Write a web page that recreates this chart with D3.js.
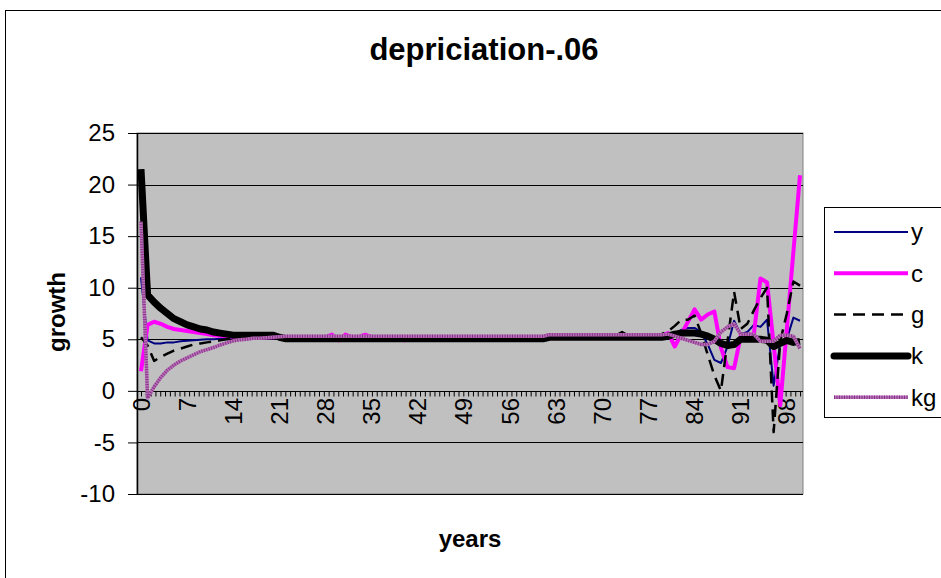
<!DOCTYPE html>
<html>
<head>
<meta charset="utf-8">
<script src="https://cdn.jsdelivr.net/npm/d3@7"></script>
<style>
  body { margin: 0; background: #fff; }
  svg { display: block; font-family: "Liberation Sans", Arial, sans-serif; }
</style>
</head>
<body>
<svg id="chart"></svg>
<script>
// years 0..100
var years = d3.range(0, 101);
var yTicks = [-10, -5, 0, 5, 10, 15, 20, 25];
var xLabels = [0, 7, 14, 21, 28, 35, 42, 49, 56, 63, 70, 77, 84, 91, 98];

var seriesY = [
  11.0, 4.9, 4.6, 4.6, 4.7, 4.7, 4.8, 4.85, 4.9, 4.95,
  5.0, 5.0, 5.05, 5.1, 5.1, 5.1, 5.1, 5.1, 5.1, 5.1,
  5.1, 5.1, 5.1, 5.1, 5.1, 5.1, 5.1, 5.1, 5.1, 5.1,
  5.1, 5.1, 5.1, 5.1, 5.1, 5.1, 5.1, 5.1, 5.1, 5.1,
  5.1, 5.1, 5.1, 5.1, 5.1, 5.1, 5.1, 5.1, 5.1, 5.1,
  5.1, 5.1, 5.1, 5.1, 5.1, 5.1, 5.1, 5.1, 5.1, 5.1,
  5.1, 5.1, 5.3, 5.3, 5.3, 5.3, 5.3, 5.3, 5.3, 5.3,
  5.3, 5.3, 5.3, 5.3, 5.3, 5.3, 5.3, 5.3, 5.3, 5.3,
  5.4, 5.6, 5.9, 6.1, 6.1, 5.7, 4.5, 3.0, 2.7, 4.3,
  6.8, 5.5, 5.7, 6.4, 6.2, 6.9, 0.5, 4.6, 5.0, 7.1,
  6.8
];
var seriesC = [
  1.9, 6.4, 6.7, 6.5, 6.2, 6.0, 5.9, 5.8, 5.7, 5.6,
  5.5, 5.4, 5.35, 5.3, 5.25, 5.2, 5.2, 5.2, 5.2, 5.2,
  5.2, 5.2, 5.2, 5.2, 5.2, 5.2, 5.2, 5.2, 5.2, 5.45,
  4.9, 5.45, 5.2, 5.2, 5.45, 5.2, 5.2, 5.2, 5.2, 5.2,
  4.9, 5.2, 5.2, 5.2, 5.2, 5.2, 5.2, 5.2, 5.2, 5.2,
  5.2, 5.2, 5.2, 5.2, 5.2, 5.2, 5.2, 5.2, 5.2, 5.2,
  5.2, 5.2, 5.4, 5.4, 5.4, 5.4, 5.4, 5.4, 5.4, 5.4,
  5.4, 5.4, 5.4, 5.4, 5.4, 5.4, 5.4, 5.4, 5.4, 5.4,
  5.6, 4.3, 5.5, 6.7, 7.9, 6.9, 7.4, 7.7, 4.2, 2.3,
  2.2, 5.3, 5.4, 5.5, 10.9, 10.5, 4.5, -1.4, 6.0, 13.5,
  20.9
];
var seriesG = [
  5.2, 4.4, 2.9, 3.3, 3.6, 3.9, 4.1, 4.3, 4.5, 4.6,
  4.7, 4.8, 4.9, 5.0, 5.0, 5.1, 5.2, 5.2, 5.2, 5.2,
  5.2, 5.2, 5.2, 5.2, 5.2, 5.2, 5.2, 5.2, 5.2, 5.2,
  5.2, 5.2, 5.2, 5.2, 5.2, 5.2, 5.2, 5.2, 5.2, 5.2,
  5.2, 5.2, 5.2, 5.2, 5.2, 5.2, 5.2, 5.2, 5.2, 5.2,
  5.2, 5.2, 5.2, 5.2, 5.2, 5.2, 5.2, 5.2, 5.2, 5.2,
  5.2, 5.2, 5.35, 5.35, 5.35, 5.35, 5.35, 5.35, 5.35, 5.35,
  5.35, 5.35, 5.35, 5.7, 5.35, 5.35, 5.35, 5.35, 5.35, 5.5,
  5.8, 6.3, 6.9, 6.9, 7.3, 5.6, 3.5, 1.5, 0.0, 4.8,
  9.6, 6.0, 6.5, 7.8, 9.0, 10.0, -4.0, 4.8, 7.5, 10.6,
  10.2
];
var seriesK = [
  21.5, 9.3, 8.6, 8.0, 7.5, 7.0, 6.7, 6.4, 6.2, 6.0,
  5.9, 5.7, 5.6, 5.5, 5.4, 5.4, 5.4, 5.4, 5.4, 5.4,
  5.4, 5.2, 5.05, 5.05, 5.05, 5.05, 5.05, 5.05, 5.05, 5.05,
  5.05, 5.05, 5.05, 5.05, 5.05, 5.05, 5.05, 5.05, 5.05, 5.05,
  5.05, 5.05, 5.05, 5.05, 5.05, 5.05, 5.05, 5.05, 5.05, 5.05,
  5.05, 5.05, 5.05, 5.05, 5.05, 5.05, 5.05, 5.05, 5.05, 5.05,
  5.05, 5.05, 5.2, 5.2, 5.2, 5.2, 5.2, 5.2, 5.2, 5.2,
  5.2, 5.2, 5.2, 5.2, 5.2, 5.2, 5.2, 5.2, 5.2, 5.2,
  5.3, 5.5, 5.6, 5.6, 5.6, 5.5, 5.3, 5.0, 4.6, 4.4,
  4.5, 5.0, 5.0, 5.0, 5.0, 4.9, 4.3, 4.6, 4.9, 4.7,
  4.8
];
var seriesKG = [
  16.4, -0.7, 0.4, 1.3, 2.0, 2.5, 2.9, 3.2, 3.5, 3.8,
  4.0, 4.2, 4.45, 4.65, 4.85, 4.95, 5.0, 5.1, 5.1, 5.15,
  5.2, 5.25, 5.3, 5.3, 5.3, 5.3, 5.3, 5.3, 5.3, 5.3,
  5.3, 5.3, 5.3, 5.3, 5.3, 5.3, 5.3, 5.3, 5.3, 5.3,
  5.3, 5.3, 5.3, 5.3, 5.3, 5.3, 5.3, 5.3, 5.3, 5.3,
  5.3, 5.3, 5.3, 5.3, 5.3, 5.3, 5.3, 5.3, 5.3, 5.3,
  5.3, 5.3, 5.45, 5.45, 5.45, 5.45, 5.45, 5.45, 5.45, 5.45,
  5.45, 5.45, 5.45, 5.45, 5.45, 5.45, 5.45, 5.45, 5.45, 5.45,
  5.5, 5.3, 5.1, 4.9, 4.7, 4.5, 4.5, 4.8, 5.7, 6.2,
  6.5, 5.5, 5.5, 5.5, 4.8, 4.8, 4.8, 5.4, 5.4, 5.3,
  4.1
];

var series = [
  { name: "y", values: seriesY, color: "#000080", width: 2, dash: null },
  { name: "c", values: seriesC, color: "#ff00ff", width: 4, dash: null },
  { name: "g", values: seriesG, color: "#000000", width: 2.5, dash: "12,7" },
  { name: "k", values: seriesK, color: "#000000", width: 7, dash: null },
  { name: "kg", values: seriesKG, color: "#b474b4", width: 3.5, dash: null, stripe: "#8e2e8e" }
];

var svgWidth = 941, svgHeight = 578;
var plot = { left: 137, right: 803, top: 133, bottom: 494 };

var svg = d3.select("#chart")
  .attr("width", svgWidth)
  .attr("height", svgHeight);

// outer chart border (right/bottom run off the picture)
svg.append("rect")
  .attr("x", 5.5).attr("y", 10.5)
  .attr("width", 1000).attr("height", 1000)
  .attr("fill", "#fff")
  .attr("stroke", "#000");

var x = d3.scaleLinear()
  .domain([0, 100])
  .range([141, 800]);

var y = d3.scaleLinear()
  .domain([-10, 25])
  .range([plot.bottom, plot.top]);

// plot area
svg.append("rect")
  .attr("x", plot.left).attr("y", plot.top)
  .attr("width", plot.right - plot.left)
  .attr("height", plot.bottom - plot.top)
  .attr("fill", "#c0c0c0")
  .attr("stroke", "#808080");

// horizontal gridlines
svg.append("g")
  .selectAll("line")
  .data(yTicks)
  .join("line")
  .attr("x1", plot.left).attr("x2", plot.right)
  .attr("y1", function(d) { return Math.round(y(d)) + 0.5; })
  .attr("y2", function(d) { return Math.round(y(d)) + 0.5; })
  .attr("stroke", "#000")
  .attr("stroke-width", 1);

// y axis
var yAxis = svg.append("g")
  .attr("transform", "translate(" + plot.left + ",0)")
  .call(d3.axisLeft(y)
    .tickValues(yTicks)
    .tickFormat(function(d) { return String(d); })
    .tickSize(9).tickPadding(13).tickSizeOuter(0));
yAxis.select(".domain").attr("stroke", "#000").attr("stroke-width", 1.5);
yAxis.selectAll(".tick line").attr("stroke", "#000");
yAxis.selectAll(".tick text")
  .attr("font-size", 24)
  .attr("font-family", "Liberation Sans, Arial, sans-serif")
  .attr("fill", "#000");

// x axis at zero, small ticks
var xAxis = svg.append("g")
  .attr("transform", "translate(0," + (Math.round(y(0)) + 0.5) + ")")
  .call(d3.axisBottom(x).tickValues(d3.range(0, 100.5, 0.73)).tickSize(5).tickFormat("").tickSizeOuter(0));
xAxis.select(".domain").attr("stroke", "#000").attr("d", "M" + plot.left + ",0H" + plot.right);
xAxis.selectAll(".tick line").attr("stroke", "#000");

// rotated category labels
svg.append("g")
  .selectAll("text")
  .data(xLabels)
  .join("text")
  .attr("transform", function(d) { return "translate(" + (x(d) + 8.5) + ",398) rotate(-90)"; })
  .attr("text-anchor", "end")
  .attr("font-size", 24)
  .text(function(d) { return d; });

// series lines
var line = d3.line()
  .x(function(d, i) { return x(years[i]); })
  .y(function(d) { return y(d); });

series.forEach(function(s) {
  var p = svg.append("path")
    .datum(s.values)
    .attr("fill", "none")
    .attr("stroke", s.color)
    .attr("stroke-width", s.width)
    .attr("stroke-linejoin", "round")
    .attr("d", line);
  if (s.dash) p.attr("stroke-dasharray", s.dash);
  if (s.stripe) {
    svg.append("path")
      .datum(s.values)
      .attr("fill", "none")
      .attr("stroke", s.stripe)
      .attr("stroke-width", s.width)
      .attr("stroke-dasharray", "1,1.5")
      .attr("d", line);
  }
});

// titles
svg.append("text")
  .attr("x", 484).attr("y", 60)
  .attr("text-anchor", "middle")
  .attr("font-size", 31)
  .attr("font-weight", "bold")
  .text("depriciation-.06");

svg.append("text")
  .attr("x", 470).attr("y", 547)
  .attr("text-anchor", "middle")
  .attr("font-size", 24)
  .attr("font-weight", "bold")
  .text("years");

svg.append("text")
  .attr("transform", "translate(65,312) rotate(-90)")
  .attr("text-anchor", "middle")
  .attr("font-size", 24)
  .attr("font-weight", "bold")
  .text("growth");

// legend
var legend = svg.append("g");
legend.append("rect")
  .attr("x", 824.5).attr("y", 207.5)
  .attr("width", 200).attr("height", 210)
  .attr("fill", "#fff")
  .attr("stroke", "#000");

var item = legend.selectAll("g.item")
  .data(series)
  .join("g")
  .attr("class", "item")
  .attr("transform", function(d, i) { return "translate(0," + (232 + i * 41.3) + ")"; });

item.append("line")
  .attr("x1", 834).attr("x2", 908)
  .attr("stroke", function(d) { return d.color; })
  .attr("stroke-width", function(d) { return d.width; })
  .attr("stroke-linecap", function(d) { return d.name == "k" ? "round" : "butt"; })
  .attr("stroke-dasharray", function(d) { return d.dash; });

item.filter(function(d) { return d.stripe; })
  .append("line")
  .attr("x1", 834).attr("x2", 908)
  .attr("stroke", function(d) { return d.stripe; })
  .attr("stroke-width", function(d) { return d.width; })
  .attr("stroke-dasharray", "1,1.5");

item.append("text")
  .attr("x", 911)
  .attr("dy", "0.35em")
  .attr("font-size", 24)
  .text(function(d) { return d.name; });
</script>
</body>
</html>
